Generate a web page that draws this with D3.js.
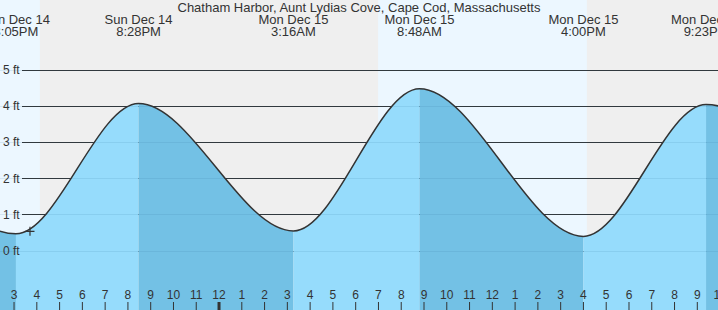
<!DOCTYPE html>
<html>
<head>
<meta charset="utf-8">
<script src="https://cdn.jsdelivr.net/npm/d3@7"></script>
<style>
    body { margin: 0; background: #fff; }
    svg text { font-family: "Liberation Sans", Arial, sans-serif; fill: #333; }
</style>
</head>
<body>
<div id="chart"></div>
<script>
// tide extremes (first and last are just outside the visible window)
const tideTimes = [
    new Date(2025, 11, 14, 8, 50),
    new Date(2025, 11, 14, 15, 5),
    new Date(2025, 11, 14, 20, 28),
    new Date(2025, 11, 15, 3, 16),
    new Date(2025, 11, 15, 8, 48),
    new Date(2025, 11, 15, 16, 0),
    new Date(2025, 11, 15, 21, 23),
    new Date(2025, 11, 16, 3, 55)
];
const tideHeights = [4.25, 0.46, 4.06, 0.54, 4.47, 0.39, 4.03, 0.45];

// daylight periods
const dayStarts = [new Date(2025, 11, 14, 6, 55), new Date(2025, 11, 15, 6, 59)];
const dayEnds = [new Date(2025, 11, 14, 16, 8), new Date(2025, 11, 15, 16, 9)];

const levelTicks = [0, 1, 2, 3, 4, 5];
const title = "Chatham Harbor, Aunt Lydias Cove, Cape Cod, Massachusetts";

// "now" marker
const nowTime = new Date(2025, 11, 14, 15, 42);
const nowHeight = 0.53;

const width = 718, height = 310;

const x = d3.scaleTime()
    .domain([new Date(2025, 11, 14, 14, 23), new Date(2025, 11, 15, 21, 54, 30)])
    .range([0, width]);

const y = d3.scaleLinear()
    .domain([0, 5])
    .range([250.5, 69.5]);

const svg = d3.select("#chart").append("svg")
    .attr("width", width)
    .attr("height", height);

// background: night grey, day light blue
svg.append("rect")
    .attr("width", width).attr("height", height)
    .attr("fill", "#efefef");

svg.selectAll("rect.day")
    .data(dayStarts)
    .join("rect")
        .attr("class", "day")
        .attr("x", (d, i) => x(d))
        .attr("width", (d, i) => x(dayEnds[i]) - x(d))
        .attr("y", 0)
        .attr("height", height)
        .attr("fill", "#ecf7ff");

// level lines
svg.selectAll("line.grid")
    .data(levelTicks)
    .join("line")
        .attr("class", "grid")
        .attr("x1", 22).attr("x2", width)
        .attr("y1", d => Math.round(y(d)) + 0.5)
        .attr("y2", d => Math.round(y(d)) + 0.5)
        .attr("stroke", "#333")
        .attr("stroke-width", 1);

const tide = tideTimes.map((t, i) => ({ t: t, h: tideHeights[i] }));

const area = d3.area()
    .x(d => x(d.t))
    .y0(height)
    .y1(d => y(d.h))
    .curve(d3.curveMonotoneX);

const line = d3.line()
    .x(d => x(d.t))
    .y(d => y(d.h))
    .curve(d3.curveMonotoneX);

svg.append("clipPath")
    .attr("id", "water")
  .append("path")
    .attr("d", area(tide));

// rising = light, falling = dark
const segments = d3.pairs(tide);
svg.append("g")
    .attr("clip-path", "url(#water)")
  .selectAll("rect")
    .data(segments)
    .join("rect")
        .attr("x", d => x(d[0].t))
        .attr("width", d => x(d[1].t) - x(d[0].t))
        .attr("y", 0)
        .attr("height", height)
        .attr("fill", d => d[1].h > d[0].h ? "#96dcfc" : "#73c1e5");

// faint level lines over the water
svg.selectAll("line.faint")
    .data(levelTicks)
    .join("line")
        .attr("class", "faint")
        .attr("x1", 0).attr("x2", width)
        .attr("y1", d => Math.round(y(d)) + 0.5)
        .attr("y2", d => Math.round(y(d)) + 0.5)
        .attr("stroke", "rgba(40,110,150,0.12)")
        .attr("stroke-width", 1);

svg.append("path")
    .attr("d", line(tide))
    .attr("fill", "none")
    .attr("stroke", "#333")
    .attr("stroke-width", 1.5);

// level labels
svg.selectAll("text.level")
    .data(levelTicks)
    .join("text")
        .attr("class", "level")
        .attr("x", 3)
        .attr("y", d => y(d) + 4.5)
        .attr("font-size", 12)
        .text(d => d + " ft");

// now marker
const nx = x(nowTime), ny = y(nowHeight);
svg.append("path")
    .attr("d", `M${nx - 4.5},${ny}H${nx + 4.5}M${nx},${ny - 4.5}V${ny + 4.5}`)
    .attr("stroke", "#333")
    .attr("stroke-width", 1.2);

// hour axis
const hours = d3.timeHour.range(new Date(2025, 11, 14, 14), new Date(2025, 11, 15, 23));
const hourFmt = d3.timeFormat("%-I");
const hourG = svg.append("g");
hourG.selectAll("line")
    .data(hours)
    .join("line")
        .attr("x1", d => x(d)).attr("x2", d => x(d))
        .attr("y1", 302).attr("y2", height)
        .attr("stroke", "#333")
        .attr("stroke-width", d => d.getHours() === 0 ? 3 : 1);
hourG.selectAll("text")
    .data(hours)
    .join("text")
        .attr("x", d => x(d))
        .attr("y", 299)
        .attr("text-anchor", "middle")
        .attr("font-size", 12)
        .text(hourFmt);

// high / low labels
const dayFmt = d3.timeFormat("%a %b %-d");
const timeFmt = d3.timeFormat("%-I:%M%p");
const labelG = svg.append("g")
    .selectAll("g")
    .data(tide.slice(1, -1))
    .join("g")
        .attr("transform", d => `translate(${x(d.t)},0)`);
labelG.append("text")
    .attr("y", 24)
    .attr("text-anchor", "middle")
    .attr("font-size", 13)
    .text(d => dayFmt(d.t));
labelG.append("text")
    .attr("y", 36)
    .attr("text-anchor", "middle")
    .attr("font-size", 13)
    .text(d => timeFmt(d.t));

svg.append("text")
    .attr("x", width / 2)
    .attr("y", 12)
    .attr("text-anchor", "middle")
    .attr("font-size", 13)
    .text(title);
</script>
</body>
</html>
